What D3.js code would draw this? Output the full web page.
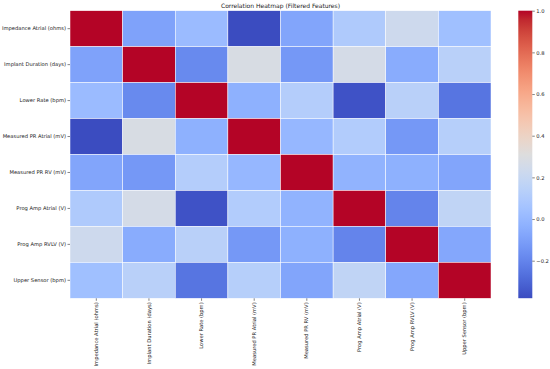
<!DOCTYPE html>
<html><head><meta charset="utf-8">
<script src="https://cdn.jsdelivr.net/npm/d3@7"></script>
<style>body{margin:0;background:#fff}svg{display:block}text{font-family:"DejaVu Sans",sans-serif;fill:#1a1a1a}</style>
</head><body><svg id="c" width="550" height="369"></svg>
<script>
const features = ["Impedance Atrial (ohms)","Implant Duration (days)","Lower Rate (bpm)","Measured PR Atrial (mV)","Measured PR RV (mV)","Prog Amp Atrial (V)","Prog Amp RVLV (V)","Upper Sensor (bpm)"];
const corrImpedanceAtrial   = [1.00,-0.09, 0.02,-0.38,-0.08, 0.10, 0.23, 0.04];
const corrImplantDuration   = [-0.09,1.00,-0.18, 0.28,-0.13, 0.26,-0.05, 0.14];
const corrLowerRate         = [0.02,-0.18, 1.00,-0.03, 0.12,-0.36, 0.14,-0.25];
const corrMeasuredPRAtrial  = [-0.38,0.28,-0.03, 1.00, 0.00, 0.11,-0.13, 0.13];
const corrMeasuredPRRV      = [-0.08,-0.13,0.12, 0.00, 1.00,-0.02,-0.03,-0.08];
const corrProgAmpAtrial     = [0.10, 0.26,-0.36, 0.11,-0.02, 1.00,-0.20, 0.17];
const corrProgAmpRVLV       = [0.23,-0.05, 0.14,-0.13,-0.03,-0.20, 1.00,-0.07];
const corrUpperSensor       = [0.04, 0.14,-0.25, 0.13,-0.08, 0.17,-0.07, 1.00];
const matrix = [corrImpedanceAtrial,corrImplantDuration,corrLowerRate,corrMeasuredPRAtrial,corrMeasuredPRRV,corrProgAmpAtrial,corrProgAmpRVLV,corrUpperSensor];
const cbTicks = [-0.2,0.0,0.2,0.4,0.6,0.8,1.0];
const title = "Correlation Heatmap (Filtered Features)";

// coolwarm colormap control points
const cw = [[59,76,192],[68,90,204],[77,104,215],[87,117,225],[98,130,234],[108,142,241],[119,154,247],[130,165,251],[141,176,254],[152,185,255],[163,194,255],[174,201,253],[184,208,249],[194,213,244],[204,217,238],[213,219,230],[221,221,221],[229,216,209],[236,211,197],[241,204,185],[245,196,173],[247,187,160],[247,177,148],[247,166,135],[244,154,123],[241,141,111],[236,127,99],[229,112,88],[222,96,77],[213,80,66],[203,62,56],[192,40,47],[180,4,38]];
const cmap = d3.scaleLinear().domain(cw.map((d,i)=>i/(cw.length-1))).range(cw.map(c=>`rgb(${c})`)).interpolate(d3.interpolateRgb).clamp(true);

const vals = matrix.flat();
const vmin = d3.min(vals), vmax = d3.max(vals);
const norm = d3.scaleLinear().domain([vmin,vmax]).range([0,1]);
const color = v => cmap(norm(v));

const svg = d3.select("#c");
const L=70, R=491, T=10.7, B=298.3;
const x = d3.scaleBand().domain(features).range([L,R]);
const y = d3.scaleBand().domain(features).range([T,B]);

const cells = [];
matrix.forEach((row,i)=>row.forEach((v,j)=>cells.push({r:features[i],c:features[j],v})));
svg.append("g").selectAll("rect").data(cells).join("rect")
  .attr("x",d=>x(d.c)).attr("y",d=>y(d.r))
  .attr("width",x.bandwidth()).attr("height",y.bandwidth())
  .attr("fill",d=>color(d.v)).attr("stroke","#fff").attr("stroke-width",0.5);

const fs = 5.2;
const yAxis = svg.append("g").attr("transform",`translate(${L},0)`).call(d3.axisLeft(y).tickSize(2.5).tickPadding(1.5));
const xAxis = svg.append("g").attr("transform",`translate(0,${B})`).call(d3.axisBottom(x).tickSize(2.5).tickPadding(1.5));
[yAxis,xAxis].forEach(a=>{a.select(".domain").remove();a.selectAll("line").attr("stroke","#333").attr("stroke-width",0.6);a.selectAll("text").attr("font-size",fs).attr("font-family","DejaVu Sans").attr("fill","#1a1a1a");});
xAxis.selectAll("text").attr("transform","rotate(-90)").attr("text-anchor","end").attr("dy","0.32em").attr("x",-4).attr("y",0);

svg.append("text").attr("x",(L+R)/2).attr("y",8).attr("text-anchor","middle").attr("font-size",6).text(title);

// colorbar
const cbX=518.3, cbW=14, cbT=10.7, cbB=298.2;
const cy = d3.scaleLinear().domain([vmin,vmax]).range([cbB,cbT]);
const defs = svg.append("defs");
const grad = defs.append("linearGradient").attr("id","g").attr("x1",0).attr("y1",1).attr("x2",0).attr("y2",0);
cw.forEach((c,i)=>grad.append("stop").attr("offset",i/(cw.length-1)).attr("stop-color",`rgb(${c})`));
svg.append("rect").attr("x",cbX).attr("y",cbT).attr("width",cbW).attr("height",cbB-cbT).attr("fill","url(#g)");
const cAxis = svg.append("g").attr("transform",`translate(${cbX+cbW},0)`).call(d3.axisRight(cy).tickValues(cbTicks).tickFormat(d3.format(".1f")).tickSize(2.5).tickPadding(1.5));
cAxis.select(".domain").remove();
cAxis.selectAll("line").attr("stroke","#333").attr("stroke-width",0.6);
cAxis.selectAll("text").attr("font-size",fs).attr("font-family","DejaVu Sans").attr("fill","#1a1a1a");
</script></body></html>
